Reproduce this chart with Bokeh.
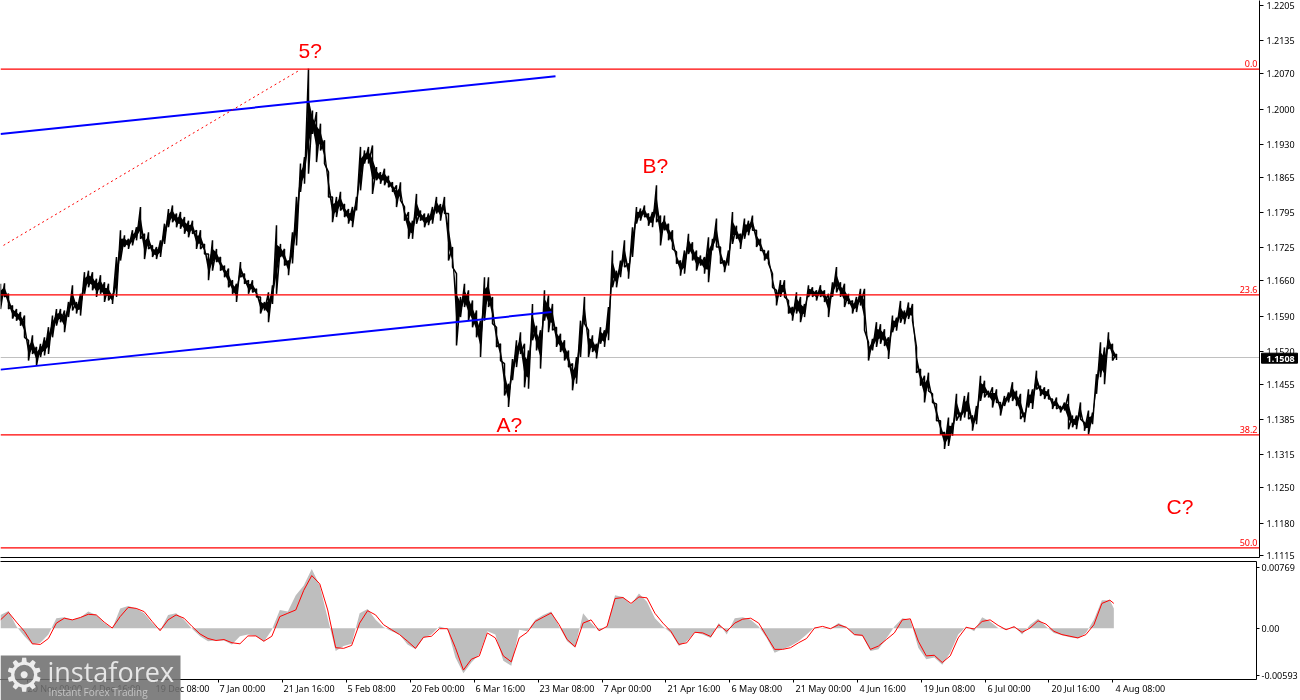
from bokeh.plotting import figure
from bokeh.models import Range1d, FixedTicker, Span, LinearAxis, NumeralTickFormatter
from bokeh.core.properties import value
from bokeh.embed import file_html
from bokeh.resources import INLINE
import numpy as np

# EURUSD-style price, in pips (1/10000). One entry every 4 chart bars.
bar_step = 4
bar_high = [
11654,11655,11634,11611,11604,11598,11591,11542,11552,11529,11535,11548,11568,11591,11604,11604,11601,11618,11651,11618,
11634,11677,11680,11677,11664,11671,11657,11654,11634,11707,11760,11750,11743,11760,11766,11806,11753,11756,11730,11727,
11740,11773,11802,11809,11793,11796,11786,11779,11779,11760,11760,11733,11713,11740,11723,11707,11690,11684,11661,11654,
11697,11674,11661,11661,11644,11628,11618,11637,11651,11770,11733,11723,11700,11756,11826,11892,11905,12080,11997,11994,
11971,11938,11875,11826,11826,11836,11812,11802,11806,11826,11925,11918,11925,11928,11885,11875,11882,11868,11855,11849,
11855,11806,11796,11779,11832,11799,11793,11793,11806,11826,11812,11826,11793,
11727,11674,11628,11654,11641,11621,11601,11581,11667,11667,11628,11568,11535,11496,11456,11505,11542,11558,11535,11522,
11614,11571,11562,11641,11631,11614,11568,11555,11542,11522,11496,11509,11581,11628,11562,11552,11535,11568,11562,11608,
11720,11680,11700,11740,11694,11766,11806,11803,11809,11793,11796,11849,11789,11789,11773,11760,11717,11700,11720,11753,
11736,11720,11710,11707,11746,11743,11783,11727,11700,11720,11796,11769,11753,11783,11779,11789,11760,11743,11720,11720,
11674,11641,11661,11661,11621,11608,11637,11628,11614,11651,11647,11641,11651,11641,11634,11657,11687,11657,11654,11634,
11621,11628,11644,11644,11538,11545,11578,
11574,11564,11548,11591,11587,11620,11601,11617,11614,11528,11485,11472,11478,11436,11416,11383,11360,11389,11379,11436,
11399,11432,11439,11393,11412,11472,11462,11442,11449,11445,11419,11432,11439,11459,11442,11436,11399,11445,11445,11482,
11452,11449,11445,11426,11429,11412,11419,11436,11393,11393,11419,11379,11403,11399,11475,11538,11528,11558,11535,11515]
bar_low = [
11604,11628,11604,11585,11581,11571,11548,11502,11515,11492,11509,11512,11515,11548,11571,11578,11558,11588,11601,11595,
11591,11634,11647,11641,11628,11634,11618,11621,11614,11628,11700,11727,11723,11730,11740,11743,11703,11723,11707,11703,
11707,11733,11766,11776,11766,11763,11753,11746,11753,11723,11723,11713,11661,11680,11697,11680,11667,11647,11634,11618,
11667,11654,11634,11637,11628,11595,11601,11578,11614,11634,11707,11690,11671,11694,11730,11836,11852,11872,11951,11895,
11918,11892,11826,11776,11786,11799,11786,11773,11766,11799,11839,11892,11892,11832,11859,11852,11849,11845,11836,11806,
11819,11779,11743,11743,11773,11779,11766,11770,11773,11793,11779,11793,11700,
11687,11532,11588,11608,11581,11568,11548,11509,11581,11608,11575,11529,11502,11433,11410,11463,11489,11515,11449,11446,
11542,11522,11486,11581,11558,11562,11529,11519,11502,11489,11443,11456,11509,11575,11509,11519,11506,11535,11529,11542,
11647,11647,11667,11687,11664,11707,11773,11779,11786,11769,11766,11776,11730,11760,11740,11723,11694,11670,11674,11713,
11700,11680,11690,11674,11657,11720,11727,11694,11677,11690,11733,11743,11723,11743,11750,11760,11727,11720,11700,11694,
11647,11611,11628,11628,11595,11581,11595,11578,11588,11628,11628,11621,11628,11618,11588,11628,11637,11628,11608,11614,
11595,11598,11611,11562,11502,11522,11529,
11535,11531,11505,11558,11561,11577,11574,11584,11581,11478,11452,11419,11442,11419,11383,11356,11327,11333,11353,11383,
11383,11389,11386,11363,11376,11422,11429,11429,11409,11419,11393,11412,11419,11422,11412,11386,11380,11409,11406,11445,
11432,11426,11426,11406,11406,11399,11403,11366,11370,11366,11386,11363,11356,11376,11436,11469,11455,11525,11502,11503]

price_last = 1.1508
fib_levels = ["0.0", "23.6", "38.2", "50.0"]
fib_prices = [1.2079, 1.1632, 1.1355, 1.1131]

channel_top_x = [0, 555]
channel_top_y = [1.19505, 1.2065]
channel_low_x = [0, 551]
channel_low_y = [1.1484, 1.1598]
dotted_x = [3, 300]
dotted_y = [1.1730, 1.2078]

wave_labels = ["5?", "A?", "B?", "C?"]
wave_x = [298, 496, 642, 1166]
wave_y = [1.2116, 1.1375, 1.1888, 1.1213]

price_ticks = [1.2205, 1.2135, 1.2070, 1.2000, 1.1930, 1.1865, 1.1795, 1.1725, 1.1660,
               1.1590, 1.1520, 1.1455, 1.1385, 1.1315, 1.1250, 1.1180, 1.1115]

# Oscillator, in units of 1e-5
osc_x = list(range(0, 1113, 8)) + [1116]
osc_signal = [
108,204,79,-38,-196,-204,-129,67,129,108,138,179,171,79,4,150,267,254,213,88,
-29,108,171,129,25,-71,-129,-154,-142,-183,-196,-96,-96,-163,-100,150,192,234,484,671,
567,234,-246,-254,-217,67,225,171,46,-17,-79,-163,-254,-113,-100,-4,-4,
-246,-530,-392,-350,-58,-121,-350,-425,-121,-50,88,142,196,46,-142,-234,67,108,-29,25,
379,392,317,400,388,192,67,-38,-204,-183,-50,-58,-104,46,-38,67,117,129,67,-100,
-267,-267,-246,-183,-129,4,25,-4,46,13,-79,-88,-267,-225,-142,
-58,108,121,-163,-350,-342,-434,-350,-121,13,-8,88,108,38,-17,21,-50,4,96,54,
-38,-79,-100,-121,-79,46,317,359,317]
osc_hist = [
171,221,25,-100,-204,-183,-79,129,142,108,138,213,171,67,-4,254,284,254,192,67,
-29,171,192,108,-4,-100,-163,-154,-154,-204,-100,-79,-96,-171,-17,234,213,421,546,755,
546,129,-288,-225,-196,192,246,108,13,-38,-79,-204,-267,-121,-79,25,-4,
-371,-571,-434,-329,-38,-79,-413,-475,-17,-38,108,171,213,25,-163,-246,192,67,-38,25,
421,400,304,442,338,129,25,-58,-225,-163,-50,-79,-121,67,-79,129,142,108,25,-121,
-309,-267,-225,-163,-79,13,-4,-4,67,13,-88,-100,-288,-267,-129,
25,129,108,-246,-392,-371,-463,-309,-79,25,-38,142,88,4,-17,25,-79,46,121,25,
-58,-88,-113,-129,-58,108,359,359,254]
osc_ticks = [0.00769, 0.0, -0.00593]
osc_tick_labels = ["0.00769", "0.00", "-0.00593"]

time_ticks = [27, 91, 155, 219, 283, 347, 411, 475, 539, 603, 667, 731, 795, 859, 923, 987, 1051, 1115]
time_labels = ["20 Nov 00:00", "4 Dec 16:00", "19 Dec 08:00", "7 Jan 00:00", "21 Jan 16:00", "5 Feb 08:00",
               "20 Feb 00:00", "6 Mar 16:00", "23 Mar 08:00", "7 Apr 00:00", "21 Apr 16:00", "6 May 08:00",
               "21 May 00:00", "4 Jun 16:00", "19 Jun 08:00", "6 Jul 00:00", "20 Jul 16:00", "4 Aug 08:00"]

FONT = "Noto Sans"
AX = "9px"


def fixed(top):
    return {"position": "fixed", "left": "0px", "top": f"{top}px"}


high = np.array(bar_high) / 1e4
low = np.array(bar_low) / 1e4
bx = np.arange(len(high)) * bar_step
zig_x = np.repeat(bx, 2)
zig_y = np.column_stack([high, low]).ravel()

p = figure(width=1300, height=562, x_range=Range1d(0, 1259), y_range=Range1d(1.1112, 1.22149),
           output_backend="svg", toolbar_location=None, y_axis_location="right",
           min_border_left=0, min_border_right=41, min_border_top=0, min_border_bottom=5,
           styles=fixed(0))
p.grid.visible = False
p.outline_line_color = None
p.background_fill_color = "white"
p.xaxis.ticker = FixedTicker(ticks=[])
p.xaxis.major_tick_line_color = None
p.xaxis.minor_tick_line_color = None
p.xaxis.major_label_text_alpha = 0
p.xaxis.axis_line_color = "black"
p.yaxis.ticker = FixedTicker(ticks=price_ticks)
p.yaxis.formatter = NumeralTickFormatter(format="0.0000")
p.yaxis.minor_tick_line_color = None
p.yaxis.major_tick_in = 0
p.yaxis.major_tick_out = 4
p.yaxis.major_label_standoff = 3
p.yaxis.major_label_text_font = FONT
p.yaxis.major_label_text_font_size = AX
p.yaxis.major_label_text_color = "black"
p.yaxis.axis_line_color = "black"
p.yaxis.axis_line_width = 1

p.add_layout(Span(location=price_last, dimension="width", line_color="#C0C0C0", line_width=1, level="underlay"))
p.varea(bx, y1=high * 0.72 + low * 0.28, y2=high * 0.28 + low * 0.72, fill_color="black")
p.line(zig_x, zig_y, line_color="black", line_width=1.5, line_join="bevel")

for lv in fib_prices:
    p.add_layout(Span(location=lv, dimension="width", line_color="#FF0000", line_width=1.3))
p.line(channel_top_x, channel_top_y, line_color="#0000FF", line_width=2)
p.line(channel_low_x, channel_low_y, line_color="#0000FF", line_width=2)
p.line(dotted_x, dotted_y, line_color="#FF0000", line_width=1, line_dash="2 3")

p.text(x=[1257] * 4, y=fib_prices, text=fib_levels, text_align="right", text_baseline="bottom",
       text_color="#FF0000", text_font=value(FONT), text_font_size=AX, y_offset=-2)
p.text(x=wave_x, y=wave_y, text=wave_labels, text_color="#FF0000", text_font=value("Liberation Sans"),
       text_font_size="21px", text_baseline="middle")

q = figure(width=1300, height=142, x_range=p.x_range, y_range=Range1d(-0.0065, 0.0085),
           output_backend="svg", toolbar_location=None, y_axis_location="right",
           min_border_left=0, min_border_right=41, min_border_top=1, min_border_bottom=21,
           border_fill_color=None, styles=fixed(558))
q.grid.visible = False
q.outline_line_color = None
q.background_fill_color = "white"
q.add_layout(LinearAxis(ticker=FixedTicker(ticks=[]), major_label_text_alpha=0, major_tick_line_color=None,
                        minor_tick_line_color=None, axis_line_color="black"), "above")
q.xaxis.ticker = FixedTicker(ticks=time_ticks)
q.xaxis.major_label_overrides = {t: "" for t in time_ticks}
q.xaxis.major_tick_in = 0
q.xaxis.major_tick_out = 3
q.xaxis.minor_tick_line_color = None
q.xaxis.axis_line_color = "black"
q.yaxis.ticker = FixedTicker(ticks=osc_ticks)
q.yaxis.major_label_overrides = dict(zip(osc_ticks, osc_tick_labels))
q.yaxis.minor_tick_line_color = None
q.yaxis.major_tick_in = 0
q.yaxis.major_tick_out = 3
q.yaxis.major_label_standoff = 2
q.yaxis.major_label_text_font = FONT
q.yaxis.major_label_text_font_size = AX
q.yaxis.major_label_text_color = "black"
q.yaxis.axis_line_color = "black"

ox = np.array(osc_x)
q.varea(ox, y1=np.zeros(len(ox)), y2=np.array(osc_hist) * 1e-5, fill_color="#BEBEBE")
q.line(ox, np.array(osc_signal) * 1e-5, line_color="#FF0000", line_width=1)

# full-window layer for everything that lies outside the two plot frames; its y scale runs in window pixels
o = figure(width=1300, height=700, x_range=Range1d(0, 1300), y_range=Range1d(700, 0),
           output_backend="svg", toolbar_location=None, x_axis_location=None, y_axis_location=None,
           min_border=0, background_fill_color=None, border_fill_color=None, styles=fixed(0))
o.grid.visible = False
o.outline_line_color = None
o.quad(left=[1261], right=[1297], top=[352.7], bottom=[362.7], fill_color="black", line_color="black")
o.text(x=[1266], y=[358], text=[f"{price_last:.4f}"], text_color="white", text_font=value(FONT),
       text_font_size=AX, text_font_style="bold", text_baseline="middle")
o.text(x=time_ticks, y=[688] * len(time_ticks), text=time_labels, text_font=value(FONT), text_font_size=AX,
       text_color="black", text_baseline="middle", text_align="left")
o.quad(left=[0], right=[180], top=[655], bottom=[700], fill_color="#707070", fill_alpha=0.88, line_color=None)
o.text(x=[3], y=[674], text=["\u2699"], text_color="#EDEDED", text_font=value("DejaVu Sans"),
       text_font_size="46px", text_baseline="middle")
o.text(x=[47], y=[671], text=["instaforex"], text_color="#E6E6E6", text_font=value("Open Sans"),
       text_font_size="27px", text_baseline="middle")
o.text(x=[48], y=[691], text=["Instant Forex Trading"], text_color="#C4C4C4", text_font=value("Open Sans"),
       text_font_size="10px", text_baseline="middle")

open("out.html", "w").write(file_html((p, q, o), INLINE))
